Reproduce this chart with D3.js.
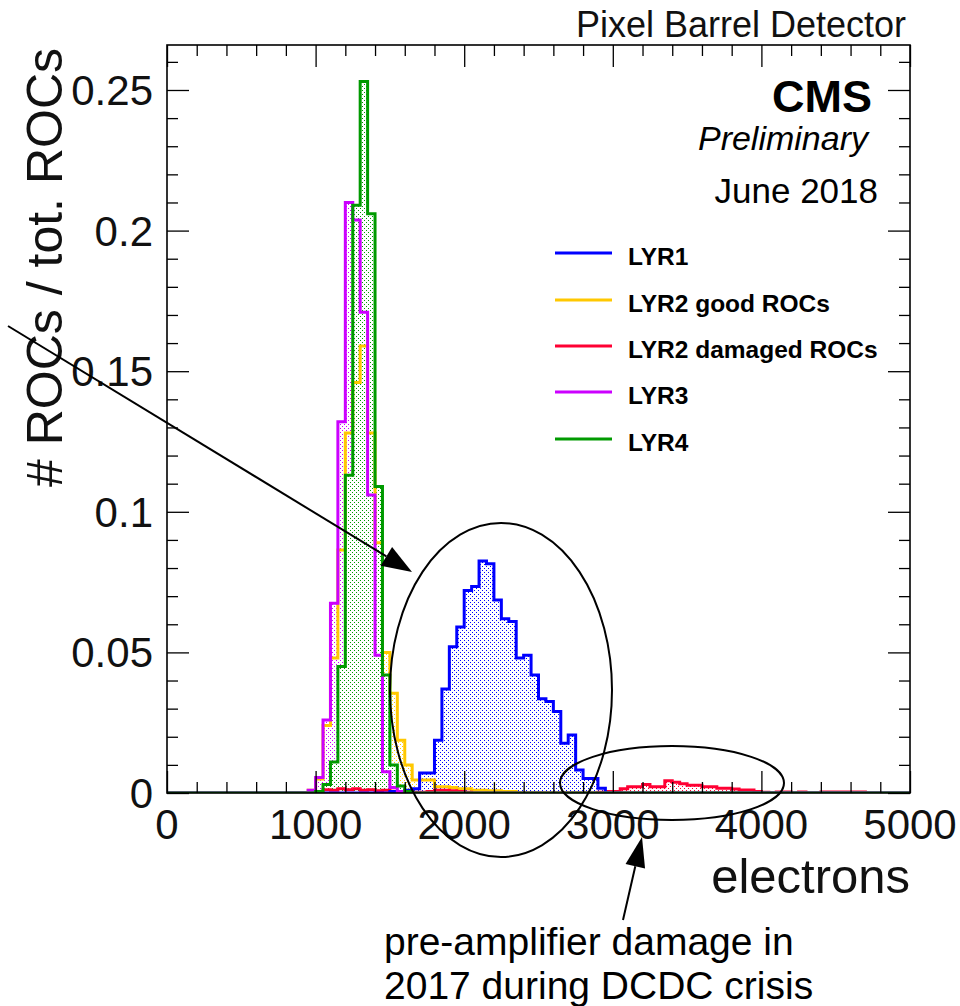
<!DOCTYPE html>
<html>
<head>
<meta charset="utf-8">
<script src="https://cdn.jsdelivr.net/npm/d3@7"></script>
<style>
  html, body { margin: 0; padding: 0; background: #fff; }
  svg { display: block; font-family: "Liberation Sans", Arial, Helvetica, sans-serif; }
</style>
</head>
<body>
<svg id="chart" width="960" height="1006"></svg>
<script>
// ---- data: fraction of ROCs per 50-electron bin ----
const binWidth = 50;
const xDomain = [0, 5000];
const yDomain = [0, 0.266];

const xMajorTicks = [0, 1000, 2000, 3000, 4000, 5000];
const xTickLabels = ["0", "1000", "2000", "3000", "4000", "5000"];
const yMajorTicks = [0, 0.05, 0.1, 0.15, 0.2, 0.25];
const yTickLabels = ["0", "0.05", "0.1", "0.15", "0.2", "0.25"];

const seriesNames  = ["LYR1", "LYR2 good ROCs", "LYR2 damaged ROCs", "LYR3", "LYR4"];
const seriesColors = ["#0000ff", "#ffc800", "#ff0033", "#cc00ff", "#009a00"];

// first bin low edge (electrons) for each series, then bin contents
const lyr1Start = 1500;
const lyr1Values = [0.0005, 0.0005, 0.001, 0.0015, 0.0071, 0.0071, 0.0188, 0.037, 0.052, 0.059,
                    0.072, 0.0734, 0.0825, 0.0815, 0.0686, 0.062, 0.061, 0.048, 0.049, 0.042,
                    0.0335, 0.0325, 0.029, 0.0177, 0.0206, 0.0082, 0.0052, 0.0052, 0.0017];

const lyr2GoodStart = 950;
const lyr2GoodValues = [0.001, 0.005, 0.024, 0.048, 0.0864, 0.128, 0.146, 0.159, 0.128, 0.089,
                        0.050, 0.0355, 0.0188, 0.010, 0.0046, 0.0046, 0.0046, 0.0022, 0.0022, 0.002,
                        0.0015, 0.0015, 0.001, 0.001, 0.0008, 0.0008, 0.0005, 0.0005];

const lyr2DamagedStart = 1000;
const lyr2DamagedValues = [0.0005, 0.0012, 0.001, 0.0015, 0.0012, 0.0015, 0.001, 0.0012, 0.0008, 0.001,
                           0.0006, 0.0005, 0.0003, 0.0003, 0.0003, 0.0005, 0.001, 0.001, 0.0008, 0.0005,
                           0.0003, 0, 0, 0, 0, 0, 0, 0, 0, 0,
                           0, 0, 0, 0, 0, 0, 0, 0, 0.0003, 0.0005,
                           0.0005, 0.0015, 0.0022, 0.0022, 0.003, 0.0022, 0.0022, 0.0044, 0.0038, 0.0033,
                           0.0028, 0.0028, 0.0022, 0.0022, 0.0017, 0.0017, 0.0014, 0.0011, 0.0011, 0.0005,
                           0.0003, 0, 0.0004, 0.0004, 0, 0.0004, 0, 0, 0.0004, 0.0004,
                           0.0004, 0.0004, 0.0004, 0.0004];

const lyr3Start = 950;
const lyr3Values = [0.001, 0.0055, 0.026, 0.0675, 0.132, 0.210, 0.2038, 0.171, 0.106, 0.049,
                    0.0076, 0.002, 0.0005];

const lyr4Start = 1000;
const lyr4Values = [0.0005, 0.003, 0.011, 0.045, 0.113, 0.209, 0.253, 0.206, 0.109, 0.042,
                    0.010, 0.0025, 0.0005];

const annotationLines = ["pre-amplifier damage in", "2017 during DCDC crisis"];

// ---- layout ----
const svg = d3.select("#chart");
const frame = { left: 167, right: 910, top: 45, bottom: 793 };
const x = d3.scaleLinear().domain(xDomain).range([frame.left, frame.right]);
const y = d3.scaleLinear().domain(yDomain).range([frame.bottom, frame.top]);

const nBins = Math.round((xDomain[1] - xDomain[0]) / binWidth);
function fullBins(start, values) {
  const out = new Array(nBins).fill(0);
  const i0 = Math.round((start - xDomain[0]) / binWidth);
  values.forEach((v, i) => { if (i0 + i >= 0 && i0 + i < nBins) out[i0 + i] = v; });
  return out;
}

// drawing order: yellow, red, blue, magenta, green on top
const series = [
  { name: seriesNames[1], color: seriesColors[1], bins: fullBins(lyr2GoodStart, lyr2GoodValues) },
  { name: seriesNames[2], color: seriesColors[2], bins: fullBins(lyr2DamagedStart, lyr2DamagedValues) },
  { name: seriesNames[0], color: seriesColors[0], bins: fullBins(lyr1Start, lyr1Values) },
  { name: seriesNames[3], color: seriesColors[3], bins: fullBins(lyr3Start, lyr3Values) },
  { name: seriesNames[4], color: seriesColors[4], bins: fullBins(lyr4Start, lyr4Values) }
];

const defs = svg.append("defs");
defs.append("clipPath").attr("id", "frameClip")
  .append("rect")
  .attr("x", frame.left).attr("y", frame.top - 2)
  .attr("width", frame.right - frame.left).attr("height", frame.bottom - frame.top + 2);

// sparse dot hatching for the histogram fills (pixel-aligned points)
series.forEach((s, i) => {
  const p = defs.append("pattern")
    .attr("id", "dots" + i)
    .attr("patternUnits", "userSpaceOnUse")
    .attr("width", 4).attr("height", 4);
  [[0, 0], [2, 2]].forEach(([px, py]) => {
    p.append("rect").attr("x", px).attr("y", py).attr("width", 1).attr("height", 1)
      .attr("fill", s.color).attr("shape-rendering", "crispEdges");
  });
});

function stepPoints(bins) {
  const pts = [[xDomain[0], 0]];
  bins.forEach((v, i) => {
    const lo = xDomain[0] + i * binWidth;
    pts.push([lo, v], [lo + binWidth, v]);
  });
  pts.push([xDomain[1], 0]);
  return pts;
}

const line = d3.line().x(d => x(d[0])).y(d => y(d[1]));
const area = d3.area().x(d => x(d[0])).y0(y(0)).y1(d => y(d[1]));

const hist = svg.append("g").attr("clip-path", "url(#frameClip)");
series.forEach((s, i) => {
  const pts = stepPoints(s.bins);
  hist.append("path").attr("d", area(pts)).attr("fill", `url(#dots${i})`);
});
series.forEach((s) => {
  const pts = stepPoints(s.bins);
  hist.append("path").attr("d", line(pts))
    .attr("fill", "none").attr("stroke", s.color)
    .attr("stroke-width", 3).attr("stroke-linejoin", "miter");
});

// ---- frame and ticks ----
const xMinorTicks = d3.range(0, 5001, 200).filter(v => v % 1000 !== 0);
const yMinorTicks = d3.range(0, 0.2651, 0.01).map(v => +v.toFixed(3)).filter(v => Math.round(v * 100) % 5 !== 0);

function tickAxis(axisFn, scale, values, size, pos) {
  const g = svg.append("g")
    .attr("transform", pos)
    .call(axisFn(scale).tickValues(values).tickSize(size).tickFormat(""));
  g.select(".domain").remove();
  g.selectAll("line").attr("stroke", "#000").attr("stroke-width", 1.3);
  return g;
}
tickAxis(d3.axisBottom, x, xMajorTicks, -22, `translate(0,${frame.bottom})`);
tickAxis(d3.axisBottom, x, xMinorTicks, -11, `translate(0,${frame.bottom})`);
tickAxis(d3.axisTop, x, xMajorTicks, -22, `translate(0,${frame.top})`);
tickAxis(d3.axisTop, x, xMinorTicks, -11, `translate(0,${frame.top})`);
tickAxis(d3.axisLeft, y, yMajorTicks, -22, `translate(${frame.left},0)`);
tickAxis(d3.axisLeft, y, yMinorTicks, -11, `translate(${frame.left},0)`);
tickAxis(d3.axisRight, y, yMajorTicks, -22, `translate(${frame.right},0)`);
tickAxis(d3.axisRight, y, yMinorTicks, -11, `translate(${frame.right},0)`);

svg.append("rect")
  .attr("x", frame.left).attr("y", frame.top)
  .attr("width", frame.right - frame.left).attr("height", frame.bottom - frame.top)
  .attr("fill", "none").attr("stroke", "#000").attr("stroke-width", 1.6);

// tick labels
svg.append("g").selectAll("text").data(xMajorTicks).join("text")
  .attr("x", d => x(d)).attr("y", 839)
  .attr("text-anchor", "middle").attr("font-size", 42).attr("fill", "#111")
  .text((d, i) => xTickLabels[i]);

svg.append("g").selectAll("text").data(yMajorTicks).join("text")
  .attr("x", 153).attr("y", d => y(d) + 15)
  .attr("text-anchor", "end").attr("font-size", 42).attr("fill", "#111")
  .text((d, i) => yTickLabels[i]);

// axis titles
svg.append("text")
  .attr("x", 910).attr("y", 893)
  .attr("text-anchor", "end").attr("font-size", 49).attr("fill", "#111")
  .text("electrons");

svg.append("text")
  .attr("transform", "translate(62,48) rotate(-90)")
  .attr("text-anchor", "end").attr("font-size", 50).attr("fill", "#111")
  .text("# ROCs / tot. ROCs");

// header texts
svg.append("text").attr("x", 906).attr("y", 37)
  .attr("text-anchor", "end").attr("font-size", 36).attr("fill", "#111")
  .text("Pixel Barrel Detector");
svg.append("text").attr("x", 872).attr("y", 112)
  .attr("text-anchor", "end").attr("font-size", 45).attr("font-weight", "bold").attr("fill", "#000")
  .text("CMS");
svg.append("text").attr("x", 868).attr("y", 150)
  .attr("text-anchor", "end").attr("font-size", 34).attr("font-style", "italic").attr("fill", "#000")
  .text("Preliminary");
svg.append("text").attr("x", 878).attr("y", 203)
  .attr("text-anchor", "end").attr("font-size", 35).attr("fill", "#000")
  .text("June 2018");

// legend
const legendRows = [253, 300, 346, 392, 439];
const legend = svg.append("g");
seriesNames.forEach((name, i) => {
  legend.append("line")
    .attr("x1", 555).attr("x2", 612)
    .attr("y1", legendRows[i]).attr("y2", legendRows[i])
    .attr("stroke", seriesColors[i]).attr("stroke-width", 3);
  legend.append("text")
    .attr("x", 628).attr("y", legendRows[i] + 12)
    .attr("font-size", 24.5).attr("font-weight", "bold").attr("fill", "#000")
    .text(name);
});

// annotations
const ann = svg.append("g").attr("fill", "none").attr("stroke", "#000").attr("stroke-width", 2);

function arrow(x1, y1, x2, y2, headLen, headHalf) {
  const ang = Math.atan2(y2 - y1, x2 - x1);
  const bx = x2 - headLen * Math.cos(ang), by = y2 - headLen * Math.sin(ang);
  ann.append("line").attr("x1", x1).attr("y1", y1).attr("x2", bx).attr("y2", by);
  const px = -Math.sin(ang) * headHalf, py = Math.cos(ang) * headHalf;
  svg.append("polygon")
    .attr("points", `${x2},${y2} ${bx + px},${by + py} ${bx - px},${by - py}`)
    .attr("fill", "#000");
}

ann.append("ellipse").attr("cx", 501).attr("cy", 690).attr("rx", 111).attr("ry", 167);
ann.append("ellipse").attr("cx", 672).attr("cy", 783).attr("rx", 112).attr("ry", 37);
arrow(8, 326, 412, 572, 30, 11);
arrow(623, 920, 642, 837, 30, 10);

svg.append("g").selectAll("text").data(annotationLines).join("text")
  .attr("x", 384).attr("y", (d, i) => 955 + i * 44)
  .attr("font-size", 39).attr("fill", "#000")
  .text(d => d);
</script>
</body>
</html>
